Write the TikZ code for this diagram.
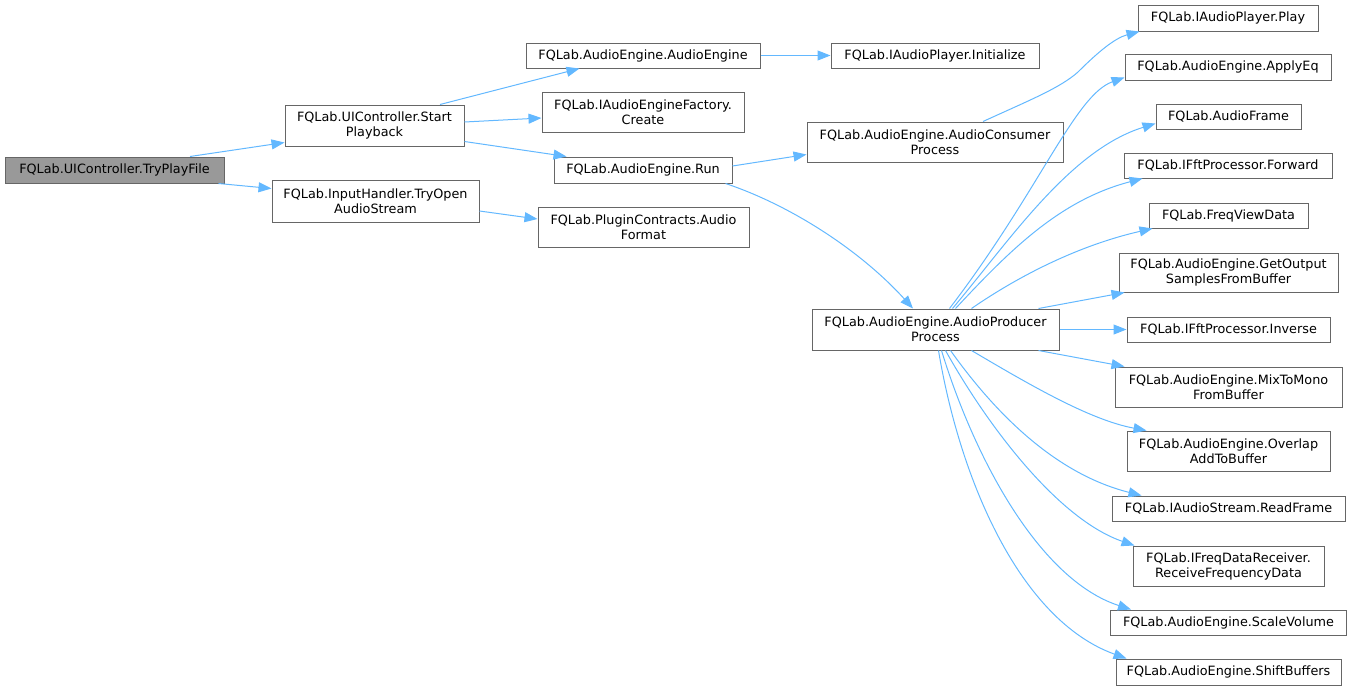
\documentclass[tikz,border=0pt]{standalone}
\usepackage{fontspec}
\setmainfont{DejaVu Sans}
\usetikzlibrary{arrows.meta}
\definecolor{edgeblue}{HTML}{63B8FF}
\definecolor{boxgray}{HTML}{666666}
\definecolor{rootfill}{HTML}{999999}
\begin{document}
\begin{tikzpicture}[x=1pt,y=-1pt,
  nbox/.style={draw=boxgray, line width=1pt, fill=white, rectangle, inner sep=0pt,
    align=center, font=\fontsize{12.8}{15}\selectfont, text=black},
  root/.style={nbox, fill=rootfill},
  edge/.style={draw=edgeblue, line width=1pt, -{Triangle[length=13pt,width=10pt]}}]
\useasboundingbox (0,0) rectangle (1352,691);

% column 1
\node[root, minimum width=219pt, minimum height=26pt] (tpf) at (114.5,170) {FQLab.UIController.TryPlayFile};
% column 2
\node[nbox, minimum width=179pt, minimum height=41pt] (sp) at (374.5,125.5) {FQLab.UIController.Start\\Playback};
\node[nbox, minimum width=207pt, minimum height=42pt] (open) at (375.5,201) {FQLab.InputHandler.TryOpen\\AudioStream};
% column 3
\node[nbox, minimum width=234pt, minimum height=25pt] (ae) at (643,55.5) {FQLab.AudioEngine.AudioEngine};
\node[nbox, minimum width=202pt, minimum height=40pt] (create) at (643,112) {FQLab.IAudioEngineFactory.\\Create};
\node[nbox, minimum width=178pt, minimum height=26pt] (run) at (643,170) {FQLab.AudioEngine.Run};
\node[nbox, minimum width=211pt, minimum height=40pt] (plugin) at (643.5,227) {FQLab.PluginContracts.Audio\\Format};
% column 4
\node[nbox, minimum width=208pt, minimum height=25pt] (init) at (935,55.5) {FQLab.IAudioPlayer.Initialize};
\node[nbox, minimum width=256pt, minimum height=40pt] (cons) at (935,142) {FQLab.AudioEngine.AudioConsumer\\Process};
\node[nbox, minimum width=247pt, minimum height=41pt] (prod) at (935.5,329.5) {FQLab.AudioEngine.AudioProducer\\Process};
% column 5
\node[nbox, minimum width=180pt, minimum height=26pt] (play) at (1228,18) {FQLab.IAudioPlayer.Play};
\node[nbox, minimum width=206pt, minimum height=26pt] (apply) at (1228,67) {FQLab.AudioEngine.ApplyEq};
\node[nbox, minimum width=145pt, minimum height=25pt] (frame) at (1228.5,116.5) {FQLab.AudioFrame};
\node[nbox, minimum width=208pt, minimum height=25pt] (fwd) at (1228,165.5) {FQLab.IFftProcessor.Forward};
\node[nbox, minimum width=159pt, minimum height=25pt] (freq) at (1228.5,215.5) {FQLab.FreqViewData};
\node[nbox, minimum width=219pt, minimum height=39pt] (getout) at (1228.5,272.5) {FQLab.AudioEngine.GetOutput\\SamplesFromBuffer};
\node[nbox, minimum width=203pt, minimum height=25pt] (inv) at (1228.5,329.5) {FQLab.IFftProcessor.Inverse};
\node[nbox, minimum width=227pt, minimum height=40pt] (mix) at (1228.5,387) {FQLab.AudioEngine.MixToMono\\FromBuffer};
\node[nbox, minimum width=203pt, minimum height=40pt] (overlap) at (1228.5,451) {FQLab.AudioEngine.Overlap\\AddToBuffer};
\node[nbox, minimum width=233pt, minimum height=25pt] (read) at (1228.5,508.5) {FQLab.IAudioStream.ReadFrame};
\node[nbox, minimum width=191pt, minimum height=40pt] (recv) at (1228.5,566) {FQLab.IFreqDataReceiver.\\ReceiveFrequencyData};
\node[nbox, minimum width=236pt, minimum height=25pt] (scale) at (1228.5,622.5) {FQLab.AudioEngine.ScaleVolume};
\node[nbox, minimum width=225pt, minimum height=26pt] (shift) at (1228.5,672) {FQLab.AudioEngine.ShiftBuffers};

% edges
\draw[edge] ([xshift=75.5pt]tpf.north) -- ([yshift=4pt]sp.south west);
\draw[edge] ([xshift=-6pt]tpf.south east) -- ([yshift=-9pt]open.north west);
\draw[edge] ([xshift=65.5pt]sp.north) -- ([xshift=54pt]ae.south west);
\draw[edge] ([yshift=3.5pt]sp.east) -- ([yshift=-6pt]create.west);
\draw[edge] ([yshift=5pt]sp.south east) -- ([xshift=13pt]run.north west);
\draw[edge] ([yshift=-10pt]open.east) -- ([yshift=8pt]plugin.west);
\draw[edge] (ae.east) -- (init.west);
\draw[edge] ([yshift=4pt]run.east) -- ([yshift=8pt]cons.south west);
\draw[edge] ([xshift=-7pt]run.south east) .. controls (790,205) and (860,250) .. ([xshift=-22.5pt]prod.north);
\draw[edge] ([xshift=48pt]cons.north) .. controls (1030,100) and (1060,88) .. (1078,72)
   .. controls (1098,52) and (1115,38) .. ([xshift=2pt]play.south west);

\draw[edge] ([xshift=14pt]prod.north) .. controls (1040,190) and (1075,95) .. ([yshift=3pt]apply.south west);
\draw[edge] ([xshift=17pt]prod.north) .. controls (1010,240) and (1070,150) .. ([yshift=6pt]frame.south west);
\draw[edge] ([xshift=20pt]prod.north) .. controls (1010,250) and (1060,200) .. ([xshift=19pt]fwd.south west);
\draw[edge] ([xshift=36pt]prod.north) .. controls (1020,275) and (1080,245) .. ([xshift=4pt]freq.south west);
\draw[edge] ([xshift=-21pt]prod.north east) -- ([xshift=6pt]getout.south west);
\draw[edge] (prod.east) -- (inv.west);
\draw[edge] ([xshift=-21pt]prod.south east) -- ([xshift=10pt]mix.north west);
\draw[edge] ([xshift=36pt]prod.south) .. controls (1030,385) and (1090,420) .. ([xshift=20pt]overlap.north west);
\draw[edge] ([xshift=15pt]prod.south) .. controls (1000,420) and (1060,475) .. ([xshift=30pt]read.north west);
\draw[edge] ([xshift=10pt]prod.south) .. controls (990,430) and (1060,520) .. ([xshift=2pt]recv.north west);
\draw[edge] ([xshift=6pt]prod.south) .. controls (975,460) and (1040,580) .. ([xshift=21pt]scale.north west);
\draw[edge] ([xshift=3pt]prod.south) .. controls (960,480) and (1020,620) .. ([xshift=11pt]shift.north west);
\end{tikzpicture}
\end{document}
